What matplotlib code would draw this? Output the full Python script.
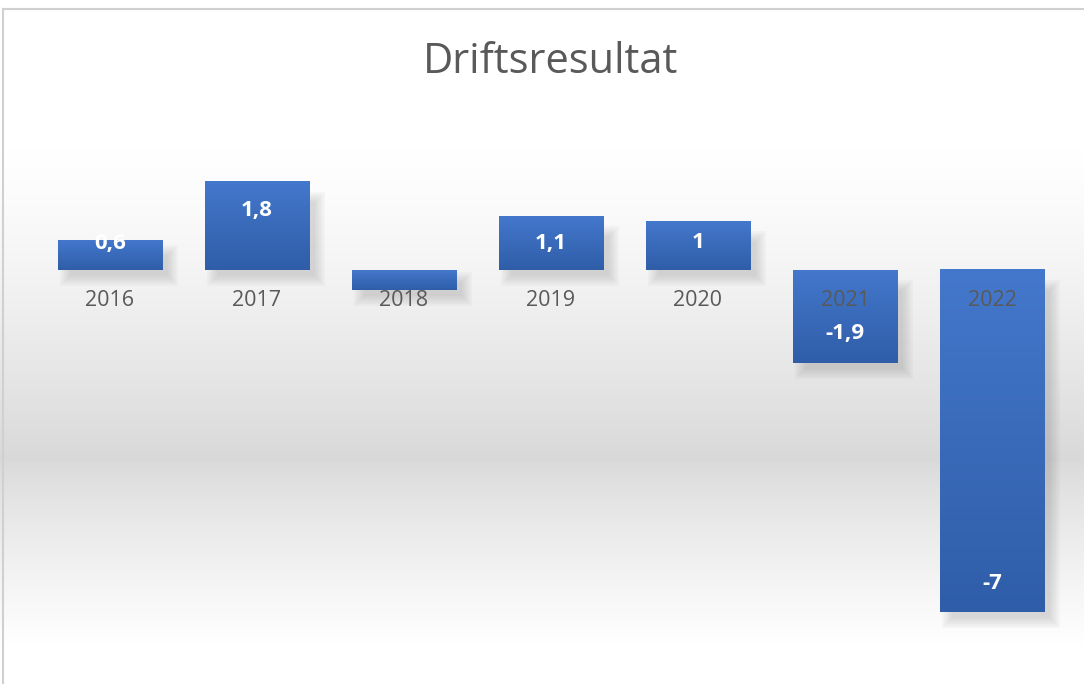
import numpy as np
import matplotlib
matplotlib.use("Agg")
import matplotlib.pyplot as plt
from matplotlib.colors import LinearSegmentedColormap

years = ["2016", "2017", "2018", "2019", "2020", "2021", "2022"]
values = [0.6, 1.8, -0.4, 1.1, 1.0, -1.9, -7.0]
labels = ["0,6", "1,8", "", "1,1", "1", "-1,9", "-7"]
title = "Driftsresultat"

W, H = 1084, 684
DPI = 100
fig = plt.figure(figsize=(W / DPI, H / DPI), dpi=DPI)
FONT = ["Open Sans", "DejaVu Sans"]

# background gradient (figure level)
bg = fig.add_axes([0, 0, 1, 1], zorder=-10)
ys = np.linspace(0, 1, 684)  # 0 = top
def shade(y):
    px = y * 684
    if px < 150:
        return 1.0
    if px < 460:
        t = (px - 150) / 310
        return 1.0 - 0.15 * t ** 1.3
    if px < 645:
        t = (px - 460) / 185
        return 0.85 + 0.15 * t ** 0.8
    return 1.0
col = np.array([shade(y) for y in ys])
img = np.stack([col, col, col], axis=-1)[:, None, :]
bg.imshow(img, aspect="auto", extent=[0, 1, 0, 1], origin="upper")
bg.set_xlim(0, 1)
bg.set_ylim(0, 1)
bg.axis("off")
bg.plot([3 / W, 3 / W], [0, 1 - 9 / H], color="#d0d0d0", lw=1.5)
bg.plot([3 / W, 1], [1 - 9 / H, 1 - 9 / H], color="#d0d0d0", lw=1.5)

zero_px = 270
ppu = 48.9
top_px, bot_px = 150, 630
left_px, right_px = 36.5, 1065.5
ax = fig.add_axes([left_px / W, 1 - bot_px / H, (right_px - left_px) / W, (bot_px - top_px) / H])
ax.axis("off")
ax.patch.set_alpha(0)

x = np.arange(len(years))
bars = ax.bar(x, values, width=0.714, color="none", zorder=3)

cmap = LinearSegmentedColormap.from_list("b", ["#4478CC", "#2F5DA8"])
grad = np.linspace(0, 1, 256)[:, None]
xu = 147.0  # px per category
for b in bars:
    x0, w = b.get_x(), b.get_width()
    y0, h = b.get_y(), b.get_height()
    ylo, yhi = min(y0, y0 + h), max(y0, y0 + h)
    hpx = (yhi - ylo) * ppu
    # soft shadow, shifted right and down, blurred
    for s in range(0, 12, 2):
        sx = s / xu
        sy = s / ppu
        inset_top = min(14, hpx * 0.3) / ppu
        ax.add_patch(plt.Rectangle((x0 + 12 / xu - sx, ylo - 6 / ppu - sy),
                                   w + 2 * sx - 6 / xu, (yhi - ylo) - inset_top + 2 * sy,
                                   color="#505050", alpha=0.035, lw=0, zorder=2))
    ax.imshow(grad, cmap=cmap, aspect="auto", extent=[x0, x0 + w, ylo, yhi],
              origin="upper", zorder=3)

ax.set_xlim(-0.5, len(years) - 0.5)
ax.set_ylim(-(bot_px - zero_px) / ppu, (zero_px - top_px) / ppu)

for xi, yr in zip(x, years):
    ax.text(xi, -30 / ppu, yr, ha="center", va="center", fontsize=15.5,
            color="#595959", family=FONT, zorder=5)

for xi, v, lab in zip(x, values, labels):
    if not lab:
        continue
    hpx = abs(v) * ppu
    off = min(29, hpx - 27) / ppu
    yl = v - off if v > 0 else v + off
    ax.text(xi, yl, lab, ha="center", va="center", fontsize=16, fontweight="bold",
            color="white", family=FONT, zorder=6)

fig.text(551 / W, 1 - 62 / H, title, ha="center", va="center", fontsize=30,
         color="#595959", family=FONT)

fig.savefig("out.png", dpi=DPI)
